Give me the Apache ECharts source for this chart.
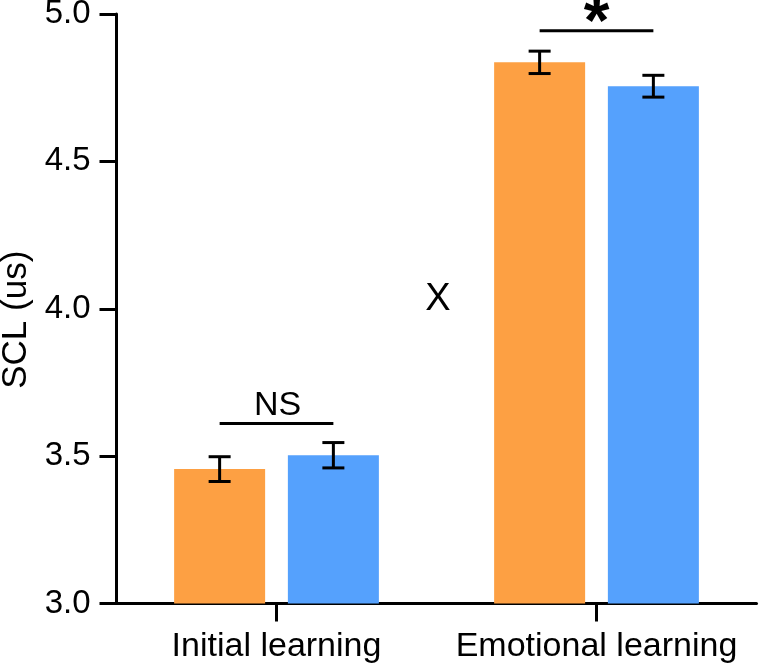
<!DOCTYPE html>
<html>
<head>
<meta charset="utf-8">
<script src="https://cdn.jsdelivr.net/npm/echarts@6/dist/echarts.min.js"></script>
<style>
  html, body { margin: 0; padding: 0; background: #fff; }
  #chart { width: 759px; height: 670px; }
</style>
</head>
<body>
<div id="chart"></div>
<script>
// ---- data ----
const categories = ['Initial learning', 'Emotional learning'];
const orangeMeans = [3.456, 4.836];
const orangeErr = [0.042, 0.038];
const blueMeans = [3.503, 4.755];
const blueErr = [0.043, 0.037];
const yTicks = [3.0, 3.5, 4.0, 4.5, 5.0];
// significance brackets
const sigCategory = [0, 1];
const sigLineY = [3.611, 4.943];
const sigLabels = ['NS', '*'];
const sigLabelY = [3.673, 4.985];

const FONT = '"Liberation Sans", Arial, Helvetica, sans-serif';
const BAR_W = 91;
const GAP = 0.25;
const OFFSET = BAR_W * (1 + GAP) / 2;

const chart = echarts.init(document.getElementById('chart'), null, { renderer: 'canvas' });

function errItem(sign) {
  return function (params, api) {
    const i = api.value(0);
    const m = api.value(1);
    const e = api.value(2);
    const top = api.coord([i, m + e]);
    const bot = api.coord([i, m - e]);
    const x = top[0] + sign * OFFSET;
    const cap = 11;
    const style = { stroke: '#000', lineWidth: 3 };
    return {
      type: 'group',
      children: [
        { type: 'line', shape: { x1: x, y1: top[1], x2: x, y2: bot[1] }, style },
        { type: 'line', shape: { x1: x - cap, y1: top[1], x2: x + cap, y2: top[1] }, style },
        { type: 'line', shape: { x1: x - cap, y1: bot[1], x2: x + cap, y2: bot[1] }, style }
      ]
    };
  };
}

const option = {
  animation: false,
  backgroundColor: '#fff',
  grid: { left: 116.5, right: 2.5, top: 14, bottom: 66.5, containLabel: false, outerBoundsMode: 'none' },
  xAxis: {
    type: 'category',
    data: categories,
    boundaryGap: true,
    axisLine: { show: true, lineStyle: { color: '#000', width: 3 } },
    axisTick: { show: true, alignWithLabel: true, interval: 0, length: 18, lineStyle: { color: '#000', width: 3 } },
    axisLabel: { color: '#000', fontSize: 34, fontFamily: FONT, margin: 26, interval: 0, hideOverlap: false }
  },
  yAxis: {
    type: 'value',
    min: 3.0,
    max: 5.0,
    interval: 0.5,
    name: 'SCL (us)',
    nameLocation: 'middle',
    nameGap: 78,
    nameTextStyle: { color: '#000', fontSize: 35, fontFamily: FONT, padding: [0, 22, 0, 0] },
    axisLine: { show: true, lineStyle: { color: '#000', width: 3 } },
    axisTick: { show: true, length: 17, lineStyle: { color: '#000', width: 3 } },
    axisLabel: {
      color: '#000', fontSize: 33, fontFamily: FONT, margin: 26,
      formatter: v => yTicks.includes(+v.toFixed(1)) ? v.toFixed(1) : ''
    },
    splitLine: { show: false }
  },
  series: [
    {
      type: 'bar',
      data: orangeMeans,
      barWidth: BAR_W,
      barGap: (GAP * 100) + '%',
      itemStyle: { color: '#FDA043' }
    },
    {
      type: 'bar',
      data: blueMeans,
      barWidth: BAR_W,
      barGap: (GAP * 100) + '%',
      itemStyle: { color: '#55A1FD' }
    },
    {
      type: 'custom',
      renderItem: errItem(-1),
      data: orangeMeans.map((m, i) => [i, m, orangeErr[i]]),
      z: 10
    },
    {
      type: 'custom',
      renderItem: errItem(1),
      data: blueMeans.map((m, i) => [i, m, blueErr[i]]),
      z: 10
    },
    {
      type: 'custom',
      renderItem: function (params, api) {
        const i = api.value(0);
        const ly = api.value(1);
        const ty = api.value(2);
        const p = api.coord([i, ly]);
        const t = api.coord([i, ty]);
        const label = sigLabels[params.dataIndex];
        const isStar = label === '*';
        return {
          type: 'group',
          children: [
            { type: 'line', shape: { x1: p[0] - OFFSET, y1: p[1], x2: p[0] + OFFSET, y2: p[1] },
              style: { stroke: '#000', lineWidth: 3 } },
            { type: 'text', x: isStar ? p[0] : p[0] + 1, y: isStar ? t[1] + 6 : t[1],
              style: { text: label, fill: '#000', font: (isStar ? 'bold 66px ' : '34px ') + FONT,
                       align: 'center', verticalAlign: 'middle' } }
          ]
        };
      },
      data: sigCategory.map((c, k) => [c, sigLineY[k], sigLabelY[k]]),
      z: 10
    }
  ],
  graphic: [
    { type: 'text', x: 438, y: 300,
      style: { text: 'X', fill: '#000', font: '38px ' + FONT, align: 'center', verticalAlign: 'middle' } }
  ]
};
chart.setOption(option);
</script>
</body>
</html>
